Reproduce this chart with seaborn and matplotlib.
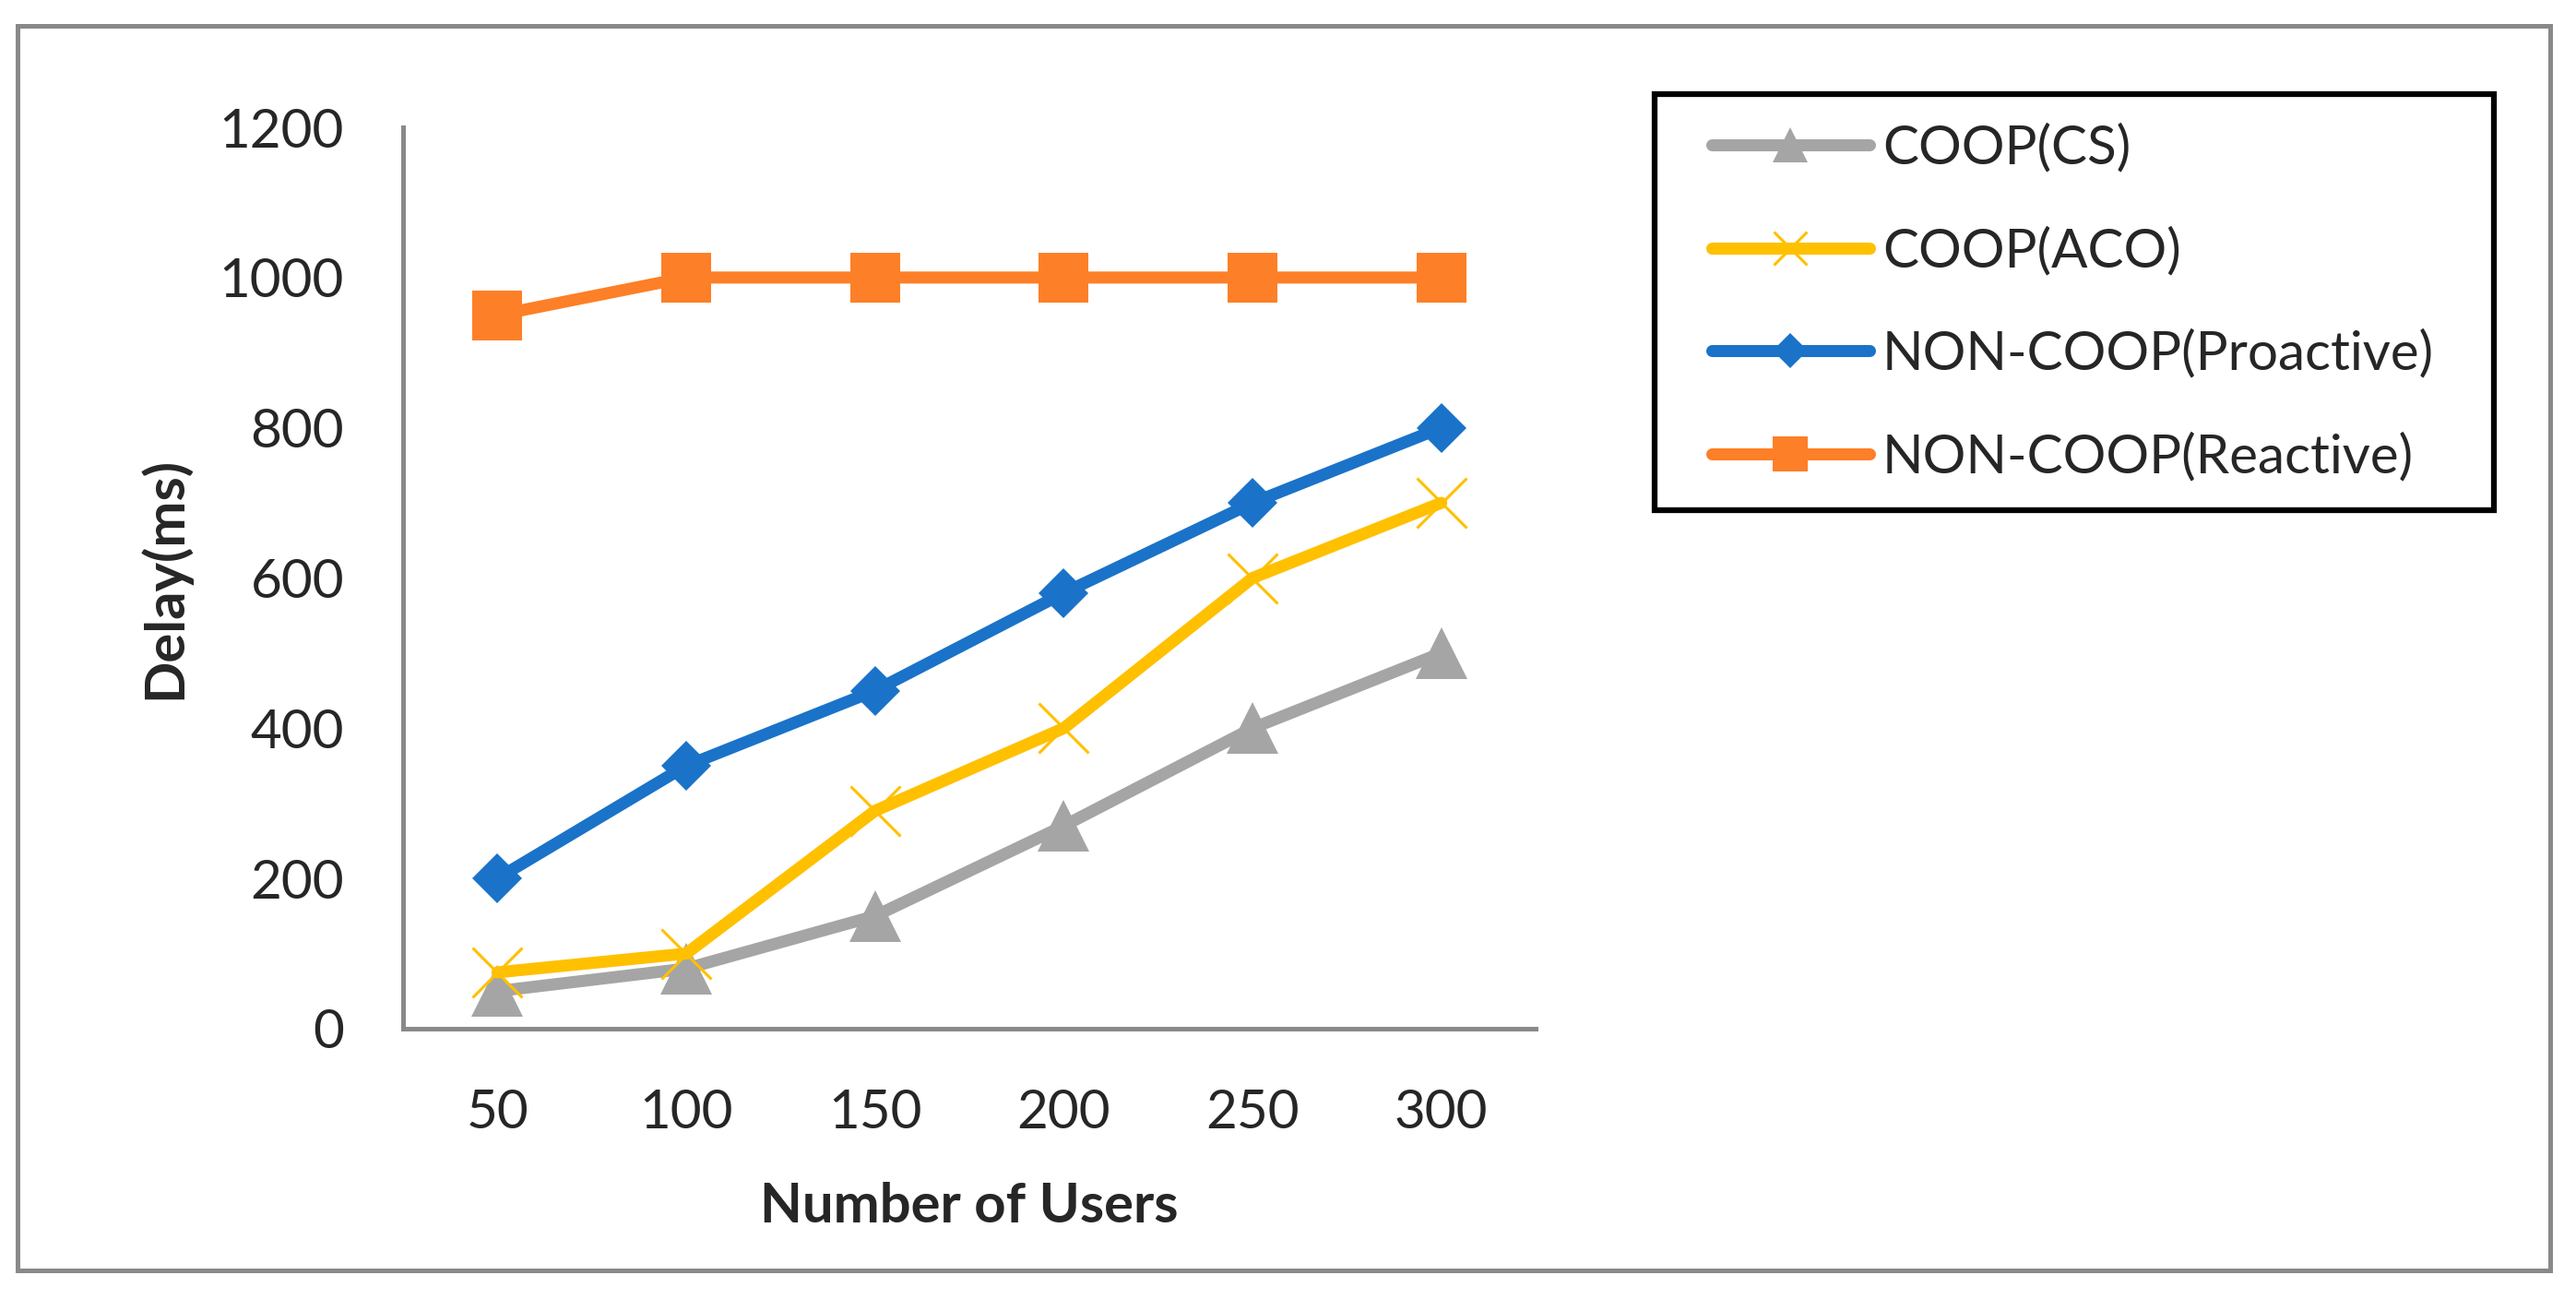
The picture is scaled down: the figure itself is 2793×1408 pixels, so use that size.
import numpy as np
import pandas as pd
import matplotlib
matplotlib.use('Agg')
import matplotlib.pyplot as plt
import seaborn as sns
from matplotlib.patches import Rectangle

# dane
users = ['50', '100', '150', '200', '250', '300']
coop_cs = [50, 80, 150, 270, 400, 500]
coop_aco = [75, 100, 290, 400, 600, 700]
noncoop_pro = [200, 350, 450, 580, 700, 800]
noncoop_rea = [950, 1000, 1000, 1000, 1000, 1000]
y_ticks = [0, 200, 400, 600, 800, 1000, 1200]

series = [
    ('COOP(CS)', coop_cs, '#A5A5A5', '^', 40),
    ('COOP(ACO)', coop_aco, '#FFC000', 'x', 39),
    ('NON-COOP(Proactive)', noncoop_pro, '#1A73C8', 'D', 28),
    ('NON-COOP(Reactive)', noncoop_rea, '#FD7F27', 's', 39),
]
legend_ms = {'^': 27, 'x': 26, 'D': 19, 's': 27}

sns.set_style('white')
plt.rcParams['font.family'] = ['Lato', 'DejaVu Sans']

W, H = 2793, 1408
fig = plt.figure(figsize=(W / 100, H / 100), dpi=100)
ax = fig.add_axes([437 / W, 1 - 1115 / H, (1665 - 437) / W, (1115 - 138) / H])

pos = np.arange(len(users))
for name, vals, col, mk, ms in series:
    df = pd.DataFrame({'pos': pos, 'delay': vals})
    sns.lineplot(data=df, x='pos', y='delay', ax=ax, color=col, marker=mk,
                 markersize=ms, linewidth=9.4, markeredgecolor=col,
                 markeredgewidth=2.2 if mk == 'x' else 0, label=name)

gray = '#898989'
ax.set_xlim(-0.5, len(users) - 0.5)
ax.set_ylim(0, 1200)
ax.set_xticks(pos)
ax.set_xticklabels(users)
ax.set_yticks(y_ticks)
for s in ['top', 'right']:
    ax.spines[s].set_visible(False)
for s in ['left', 'bottom']:
    ax.spines[s].set_color(gray)
    ax.spines[s].set_linewidth(3.6)
ax.tick_params(axis='y', length=16, width=3.6, color=gray, labelsize=42, pad=30)
ax.tick_params(axis='x', length=0, labelsize=42, pad=47)

ax.set_xlabel('Number of Users', fontsize=43, fontweight='bold')
ax.set_ylabel('Delay(ms)', fontsize=43, fontweight='bold')
ax.xaxis.set_label_coords(0.5, -0.17)
ax.yaxis.set_label_coords(-0.188, 0.5)

leg = ax.legend(loc='center left', bbox_to_anchor=(1856 / W, 1 - 328 / H),
                bbox_transform=fig.transFigure, frameon=False, fontsize=42,
                borderpad=0, borderaxespad=0, handlelength=2.93,
                handletextpad=0.24, labelspacing=0.99)
for line, (name, vals, col, mk, ms) in zip(leg.get_lines(), series):
    line.set_markersize(legend_ms[mk])

# ramka legendy i ramka calego wykresu
fig.patches.append(Rectangle((1794 / W, 1 - 553 / H), (2704 - 1794) / W, (553 - 102) / H,
                             transform=fig.transFigure, fill=False,
                             edgecolor='black', linewidth=4.5))
fig.patches.append(Rectangle((19 / W, 1 - 1377 / H), (2765 - 19) / W, (1377 - 28) / H,
                             transform=fig.transFigure, fill=False,
                             edgecolor=gray, linewidth=3.6))

fig.savefig('out.png', dpi=100)
